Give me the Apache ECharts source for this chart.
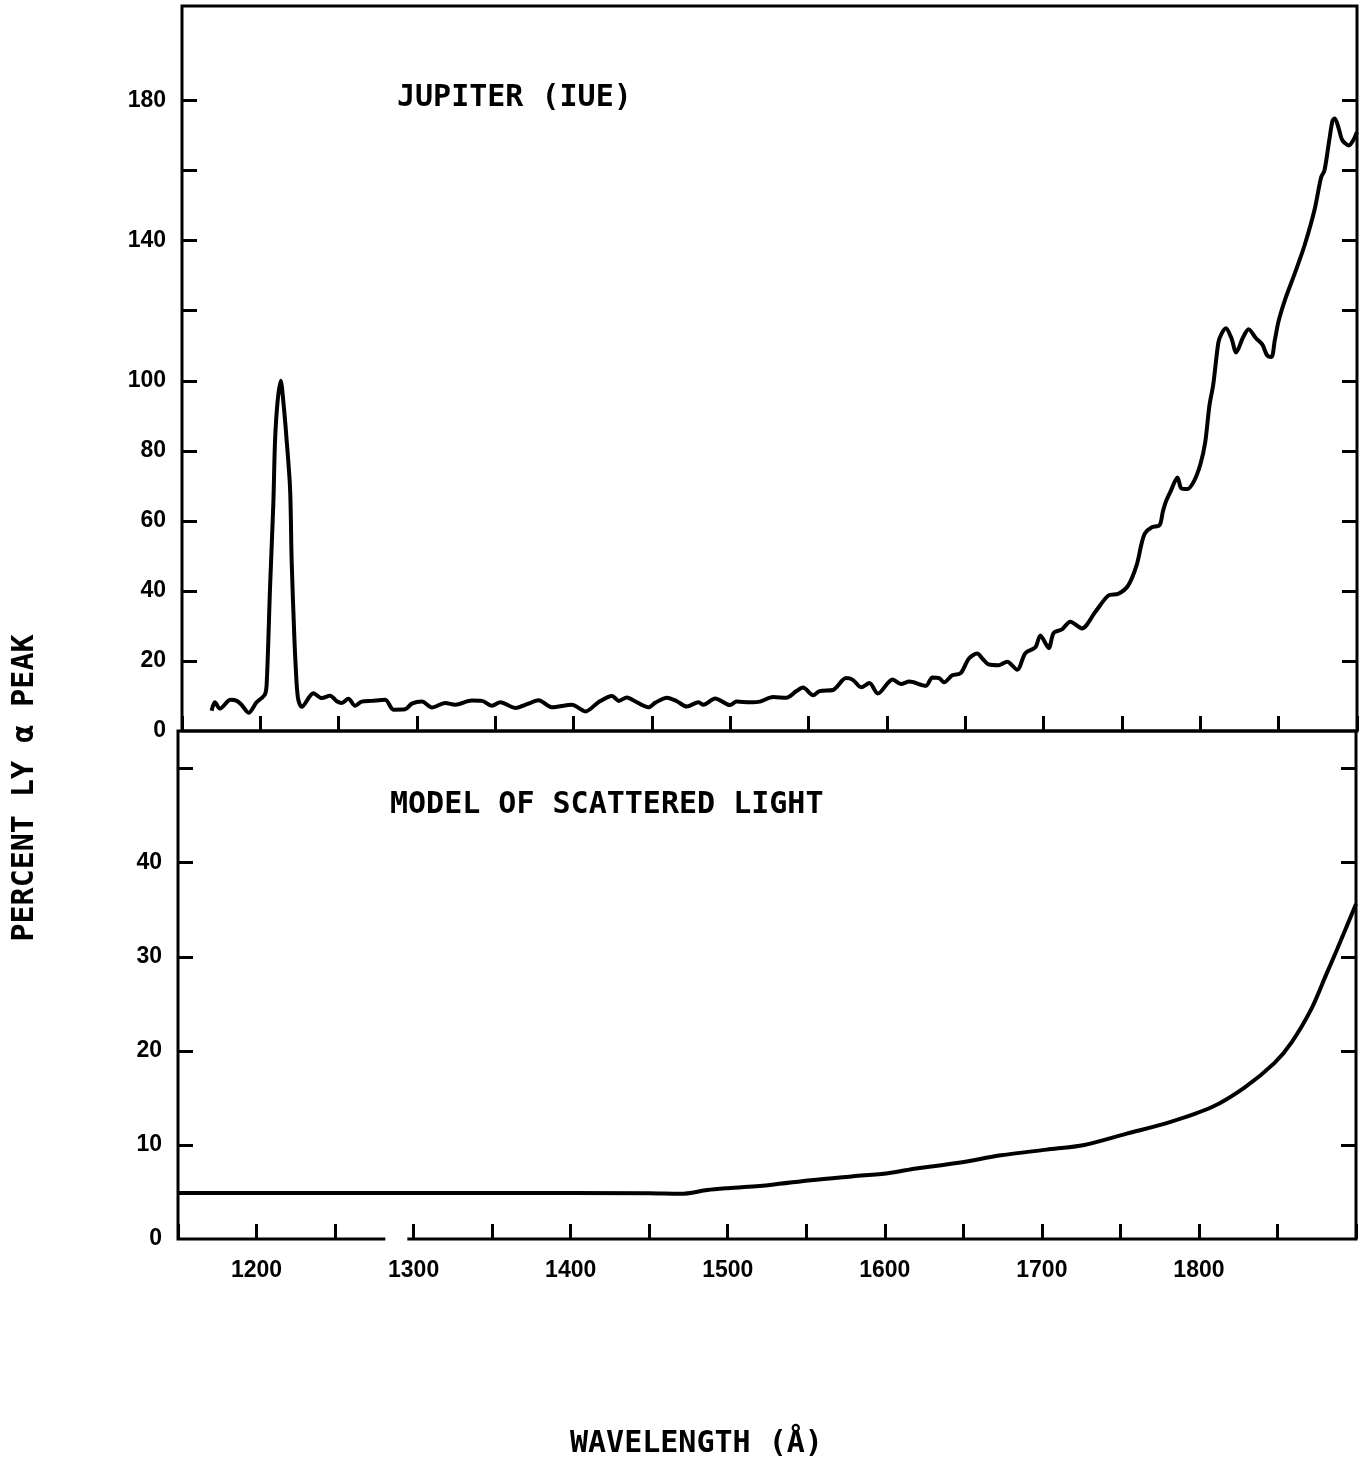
<!DOCTYPE html>
<html>
<head>
<meta charset="utf-8">
<script src="https://cdn.jsdelivr.net/npm/echarts@6/dist/echarts.min.js"></script>
<style>html,body{margin:0;padding:0;background:#fff}#c{width:1365px;height:1468px}</style>
</head>
<body>
<div id="c"></div>
<script>
// ---- data ----
const jupiterWave = [1168.9,1171,1174.2,1181,1185,1188,1192.5,1197.6,1203,1204.2,1206.2,1208.3,1209.4,1211,1213,1214.7,1216.8,1219,1220,1221.6,1222.5,1224,1226.4,1233.9,1239.2,1244.5,1248.8,1252,1256.2,1260.5,1264.7,1271.1,1279.7,1285,1292.4,1296.7,1303.1,1309.5,1318,1324.4,1335,1341.5,1347.8,1353.2,1362.7,1371.2,1377.6,1386.1,1398.9,1407.5,1416,1424.5,1428.8,1434,1438.3,1447.9,1452.2,1459.6,1465.9,1472.2,1479.7,1482.8,1490.3,1499.8,1504,1512.5,1518.9,1527.3,1535.8,1542.2,1546.4,1552.8,1557,1565.5,1573.9,1578.2,1583.5,1588.8,1594.1,1603.6,1608.9,1614.2,1624.8,1629,1633.3,1636.4,1641.7,1647,1652.3,1657.6,1660.8,1665,1671.4,1676.7,1683.1,1688.3,1694.7,1697.9,1703.2,1706.4,1711.7,1717,1724.4,1732.8,1741.3,1747.7,1754,1759.3,1762.5,1764.6,1768.8,1774,1776,1778.1,1781.3,1785.4,1787.9,1791.7,1795.8,1800,1803.1,1805.8,1808.3,1811.5,1813.5,1816.3,1819.8,1822.9,1827.1,1830.8,1835.4,1839.6,1842.7,1845.4,1847.5,1850,1854.2,1860.4,1866.7,1872.9,1877.1,1879.2,1882.3,1884.4,1885.8,1888.5,1890.6,1894.8,1897.9,1900];
const jupiterPct = [5.8,8.2,6.4,8.9,8.6,7.5,5.2,8.2,10.5,15,41,65,83,94,100,94,83,69,48.5,28,19,9.5,6.9,10.8,9.4,10.1,8.5,8.0,9.2,7.2,8.4,8.6,8.9,6.1,6.2,7.8,8.4,6.7,8.0,7.5,8.7,8.6,7.2,8.2,6.6,7.8,8.8,6.8,7.5,5.6,8.3,10.0,8.6,9.6,8.7,6.8,8.1,9.5,8.5,7.0,8.2,7.5,9.3,7.4,8.4,8.2,8.4,9.7,9.5,11.4,12.4,10.2,11.4,11.7,15.1,14.6,12.5,13.7,10.7,14.7,13.4,14.1,12.9,15.3,15.1,13.9,15.9,16.5,20.7,22.1,20.7,19.0,18.8,19.8,17.5,22.2,23.9,27.3,23.7,28.0,29.0,31.2,29.3,33.9,38.7,39.2,41.6,47.3,53.5,56.4,58.1,58.8,62.5,65.6,68.7,72.4,69.3,69.1,71.2,76.1,82.4,92.9,99.1,110.9,113.4,115,112.2,108.1,112.2,114.7,112.2,110.3,107.2,106.8,111.5,117.1,123.3,130.8,138.9,148.8,158.1,160,168.7,174.3,174.9,171.8,168.7,167.2,168.9,171];

const modelWave = [1150,1250,1350,1450,1470,1487,1500,1527,1553,1580,1602,1620,1647,1674,1703,1727,1754,1781,1808,1829,1848,1859,1872,1881,1888,1893,1900];
const modelPct  = [4.9,4.9,4.9,4.85,4.8,5.2,5.4,5.75,6.25,6.67,7.0,7.5,8.1,8.9,9.5,10.0,11.2,12.4,14.0,16.1,18.7,20.9,24.6,28.1,30.8,32.8,35.6];

const xLabels = [1200,1300,1400,1500,1600,1700,1800];
const topYTicks = [20,40,60,80,100,120,140,160,180];
const topYLabels = [0,20,40,60,80,100,140,180];
const bottomYTicks = [10,20,30,40,50];
const bottomYLabels = [0,10,20,30,40];
const bottomAxisGap = [1282, 1296];   // break in the printed wavelength axis line
const topPanelText = 'JUPITER (IUE)';
const bottomPanelText = 'MODEL OF SCATTERED LIGHT';
const xTitle = 'WAVELENGTH (Å)';
const yTitle = 'PERCENT LY α PEAK';

// ---- chart ----
const chart = echarts.init(document.getElementById('c'), null, {renderer: 'canvas'});
const black = '#000';
const labelFont = {fontFamily: 'Liberation Sans', fontWeight: 'bold', fontSize: 23, color: black};
const monoFont = {fontFamily: 'DejaVu Sans Mono', fontWeight: 'bold', fontSize: 30, fill: black};

function xAxisCfg(gi, showLabels) {
  return {
    type: 'value', gridIndex: gi, min: 1150, max: 1900, interval: 50,
    axisLine: {show: false},
    splitLine: {show: false},
    axisTick: {show: true, inside: true, length: 15, lineStyle: {color: black, width: 3}},
    axisLabel: showLabels ? Object.assign({
      show: true, margin: 20,
      formatter: v => xLabels.includes(v) ? String(v) : ''
    }, labelFont) : {show: false}
  };
}
function yAxisCfg(gi, pos, max, ticks, labels) {
  return {
    type: 'value', gridIndex: gi, position: pos, min: 0, max: max,
    axisLine: {show: false},
    splitLine: {show: false},
    axisTick: {show: true, inside: true, length: 15, lineStyle: {color: black, width: 3}, customValues: ticks},
    axisLabel: labels ? Object.assign({show: true, margin: 16, customValues: labels}, labelFont) : {show: false}
  };
}

chart.setOption({
  backgroundColor: '#fff',
  animation: false,
  grid: [
    {left: 182, top: 6, width: 1175, height: 725, show: true, borderColor: black, borderWidth: 3, backgroundColor: 'transparent'},
    {left: 178, top: 731, width: 1178, height: 508, show: true, borderColor: black, borderWidth: 3, backgroundColor: 'transparent'}
  ],
  xAxis: [xAxisCfg(0, false), xAxisCfg(1, true)],
  yAxis: [
    yAxisCfg(0, 'left', 207, topYTicks, topYLabels),
    yAxisCfg(0, 'right', 207, topYTicks, null),
    yAxisCfg(1, 'left', 54, bottomYTicks, bottomYLabels),
    yAxisCfg(1, 'right', 54, bottomYTicks, null)
  ],
  series: [
    {
      type: 'line', xAxisIndex: 0, yAxisIndex: 0, showSymbol: false, smooth: 0.3,
      lineStyle: {color: black, width: 4}, itemStyle: {color: black},
      data: jupiterWave.map((w, i) => [w, jupiterPct[i]])
    },
    {
      type: 'line', xAxisIndex: 1, yAxisIndex: 2, showSymbol: false, smooth: 0.3,
      lineStyle: {color: black, width: 4}, itemStyle: {color: black},
      data: modelWave.map((w, i) => [w, modelPct[i]]),
      markLine: {
        silent: true, symbol: 'none', label: {show: false},
        lineStyle: {color: '#fff', width: 6, type: 'solid'},
        data: [[{coord: [bottomAxisGap[0], 0]}, {coord: [bottomAxisGap[1], 0]}]]
      }
    }
  ],
  graphic: [
    {type: 'text', left: 397, top: 83, style: Object.assign({text: topPanelText}, monoFont)},
    {type: 'text', left: 390, top: 790, style: Object.assign({text: bottomPanelText}, monoFont)},
    {type: 'text', left: 570, top: 1429, style: Object.assign({text: xTitle}, monoFont)},
    {type: 'text', x: 25, y: 788, rotation: Math.PI / 2,
      style: Object.assign({text: yTitle, align: 'center', verticalAlign: 'middle'}, monoFont)}
  ]
});
</script>
</body>
</html>
